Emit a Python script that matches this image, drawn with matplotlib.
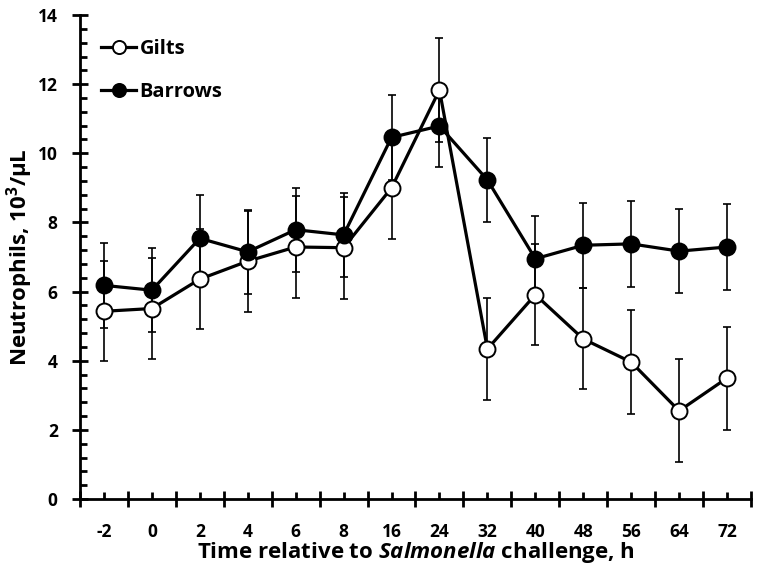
import matplotlib
matplotlib.use("Agg")
import matplotlib.pyplot as plt
from matplotlib.ticker import FixedLocator, NullFormatter, FixedFormatter, MultipleLocator

FONT = 'Open Sans'
plt.rcParams['font.family'] = [FONT, 'DejaVu Sans']
plt.rcParams['font.weight'] = 'bold'
plt.rcParams['mathtext.fontset'] = 'custom'
plt.rcParams['mathtext.it'] = FONT + ':bold:italic'
plt.rcParams['mathtext.rm'] = FONT + ':bold'
plt.rcParams['mathtext.bf'] = FONT + ':bold'

time_labels = ["-2", "0", "2", "4", "6", "8", "16", "24", "32", "40", "48", "56", "64", "72"]
gilts = [5.43, 5.51, 6.36, 6.88, 7.29, 7.27, 9.00, 11.83, 4.34, 5.91, 4.63, 3.96, 2.55, 3.50]
gilts_se = [1.45, 1.46, 1.45, 1.46, 1.47, 1.47, 1.47, 1.50, 1.48, 1.46, 1.46, 1.50, 1.49, 1.49]
barrows = [6.18, 6.04, 7.54, 7.15, 7.79, 7.64, 10.46, 10.79, 9.23, 6.95, 7.34, 7.38, 7.17, 7.29]
barrows_se = [1.23, 1.21, 1.24, 1.22, 1.22, 1.22, 1.23, 1.20, 1.22, 1.23, 1.23, 1.24, 1.22, 1.23]

fig = plt.figure(figsize=(7.58, 5.69), dpi=100)
ax = fig.add_axes([0.1055, 0.123, 0.8853, 0.8506])

x = list(range(len(time_labels)))

ax.errorbar(x, barrows, yerr=barrows_se, fmt='none', ecolor='black', elinewidth=1.2,
            capsize=3, capthick=1.2, zorder=2)
ax.errorbar(x, gilts, yerr=gilts_se, fmt='none', ecolor='black', elinewidth=1.2,
            capsize=3, capthick=1.2, zorder=2)
ax.plot(x, gilts, color='black', lw=2.3, marker='o', ms=11.5, mfc='white', mec='black',
        mew=1.4, label='Gilts', zorder=3)
ax.plot(x, barrows, color='black', lw=2.3, marker='o', ms=11.5, mfc='black', mec='black',
        mew=1.4, label='Barrows', zorder=4)

ax.set_xlim(-0.5, len(time_labels) - 0.5)
ax.set_ylim(0, 14)

for s in ['top', 'right']:
    ax.spines[s].set_visible(False)
for s in ['left', 'bottom']:
    ax.spines[s].set_linewidth(2.0)

ax.xaxis.set_major_locator(FixedLocator([i - 0.5 for i in range(len(time_labels) + 1)]))
ax.xaxis.set_major_formatter(NullFormatter())
ax.xaxis.set_minor_locator(FixedLocator(x))
ax.xaxis.set_minor_formatter(FixedFormatter(time_labels))
ax.tick_params(axis='x', which='major', direction='inout', length=12, width=2.0)
ax.tick_params(axis='x', which='minor', direction='in', length=5, width=2.0, pad=17.5,
               labelsize=12.5)

ax.yaxis.set_major_locator(MultipleLocator(2))
ax.yaxis.set_minor_locator(MultipleLocator(0.4))
ax.tick_params(axis='y', which='major', direction='inout', length=12, width=2.0, pad=10,
               labelsize=12.5)
ax.tick_params(axis='y', which='minor', direction='in', length=5, width=2.0)

for lab in ax.get_xticklabels(minor=True) + ax.get_yticklabels():
    lab.set_fontweight('bold')

ax.set_xlabel('Time relative to $\\mathit{Salmonella}$ challenge, h', fontsize=16,
              fontweight='bold', labelpad=-1)
ax.set_ylabel('Neutrophils, 10$^{\\mathbf{3}}$/µL', fontsize=16, fontweight='bold',
              labelpad=2)

leg = ax.legend(loc='upper left', bbox_to_anchor=(0.02, 0.967), frameon=False,
                fontsize=14.5, handlelength=1.74, handletextpad=0.15, labelspacing=1.15,
                borderaxespad=0, markerscale=0.82)
for t in leg.get_texts():
    t.set_fontweight('bold')

fig.savefig('out.png', dpi=100)
